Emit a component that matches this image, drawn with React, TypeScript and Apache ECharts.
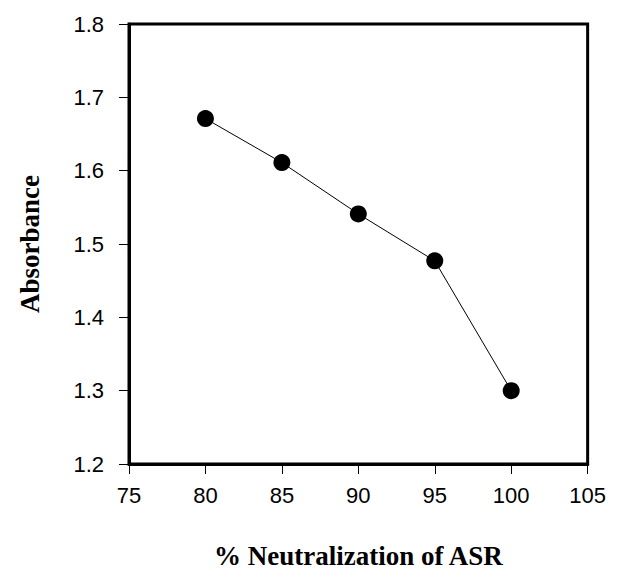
import React, { useEffect, useRef } from "react";
import * as echarts from "echarts";

const xValues = [80, 85, 90, 95, 100];
const absorbance = [1.671, 1.611, 1.541, 1.477, 1.3];
const xTitle = "% Neutralization of ASR";
const yTitle = "Absorbance";

export default function App() {
  const ref = useRef<HTMLDivElement>(null);
  useEffect(() => {
    if (!ref.current) return;
    const chart = echarts.init(ref.current, null, { renderer: "svg" });
    const data = xValues.map((x, i) => [x, absorbance[i]]);
    chart.setOption({
      animation: false,
      backgroundColor: "#fff",
      grid: {
        left: 101,
        right: 12,
        top: 16,
        bottom: 80,
        show: true,
        borderColor: "#000",
        borderWidth: 3,
      },
      xAxis: {
        type: "value",
        min: 75,
        max: 105,
        interval: 5,
        name: xTitle,
        nameLocation: "middle",
        nameGap: 78,
        nameTextStyle: {
          fontFamily: "Liberation Serif",
          fontWeight: "bold",
          fontSize: 27,
          color: "#000",
        },
        axisLine: { show: true, lineStyle: { color: "#000", width: 3 } },
        axisTick: { show: true, inside: false, length: 10, lineStyle: { color: "#000", width: 1 } },
        axisLabel: {
          margin: 20,
          fontFamily: "Liberation Sans",
          fontSize: 22,
          color: "#000",
        },
        splitLine: { show: false },
      },
      yAxis: {
        type: "value",
        min: 1.2,
        max: 1.8,
        interval: 0.1,
        name: yTitle,
        nameLocation: "middle",
        nameGap: 86,
        nameTextStyle: {
          fontFamily: "Liberation Serif",
          fontWeight: "bold",
          fontSize: 27,
          color: "#000",
        },
        axisLine: { show: true, lineStyle: { color: "#000", width: 3 } },
        axisTick: { show: true, inside: false, length: 10, lineStyle: { color: "#000", width: 1 } },
        axisLabel: {
          margin: 25,
          fontFamily: "Liberation Sans",
          fontSize: 22,
          color: "#000",
          formatter: (v: number) => v.toFixed(1),
        },
        splitLine: { show: false },
      },
      series: [
        {
          type: "line",
          data,
          symbol: "circle",
          symbolSize: 17,
          itemStyle: { color: "#000" },
          lineStyle: { color: "#000", width: 1 },
        },
      ],
    });
    return () => chart.dispose();
  }, []);
  return <div ref={ref} style={{ width: 601, height: 566 }} />;
}
